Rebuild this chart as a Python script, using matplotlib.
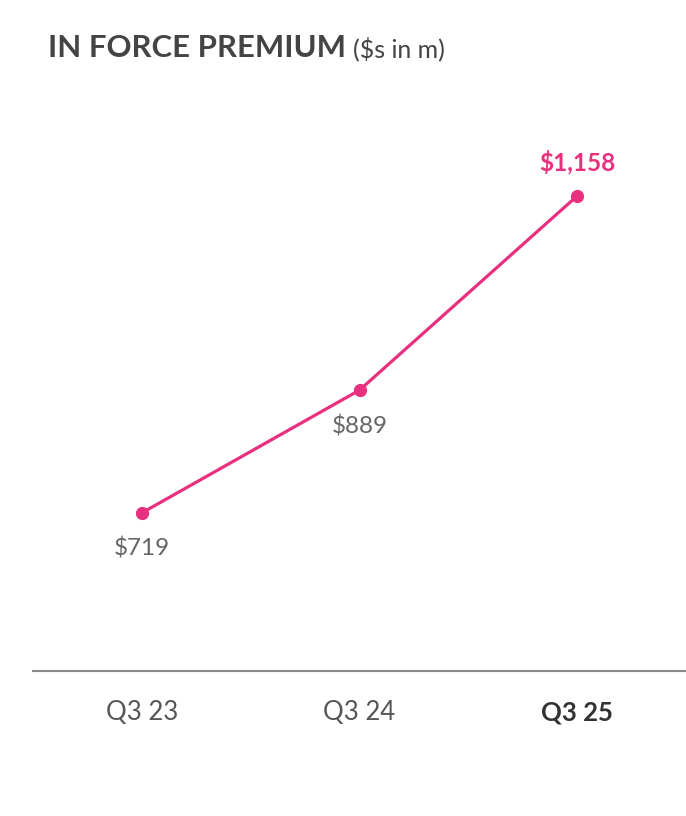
import matplotlib
matplotlib.use("Agg")
import matplotlib.pyplot as plt

categories = ["Q3 23", "Q3 24", "Q3 25"]
values = [719, 889, 1158]
value_labels = ["$719", "$889", "$1,158"]

PINK = "#E8307F"
GRAY = "#666666"
DARK = "#444444"

plt.rcParams['font.family'] = ['Lato', 'DejaVu Sans']

fig = plt.figure(figsize=(6.86, 8.16), dpi=100)
ax = fig.add_axes([33/686, (816-671)/816, 1 - 33/686, (671-93.4)/816])

x = list(range(len(categories)))
ax.plot(x, values, color=PINK, lw=2.3, marker='o', markersize=8.5, zorder=3)
ax.set_xlim(-0.5, 2.5)
ax.set_ylim(500, 1300)

for i, (v, lab) in enumerate(zip(values, value_labels)):
    if i == len(values) - 1:
        ax.annotate(lab, (i, v), xytext=(0, 24), textcoords='offset points',
                    ha='center', va='center', fontsize=17.5, fontweight='bold', color=PINK)
    else:
        ax.annotate(lab, (i, v), xytext=(0, -26), textcoords='offset points',
                    ha='center', va='center', fontsize=17.5, color=GRAY)

for s in ['top', 'right', 'left']:
    ax.spines[s].set_visible(False)
ax.spines['bottom'].set_color('#8a8a8a')
ax.spines['bottom'].set_linewidth(1.5)
ax.set_yticks([])
ax.set_xticks(x)
ax.set_xticklabels(categories, fontsize=18.5, color='#555555')
ax.tick_params(axis='x', length=0, pad=21)
labs = ax.get_xticklabels()
labs[-1].set_fontweight('bold')
labs[-1].set_color('#333333')

t1 = fig.text(48/686, 1 - 48/816, "IN FORCE PREMIUM", fontsize=22.4, fontweight='bold',
              color=DARK, ha='left', va='center')
fig.canvas.draw()
bb = t1.get_window_extent()
fig.text((bb.x1 + 7) / fig.bbox.width, 1 - 49/816, "($s in m)", fontsize=18,
         color=DARK, ha='left', va='center')

fig.savefig("out.png", dpi=100)
